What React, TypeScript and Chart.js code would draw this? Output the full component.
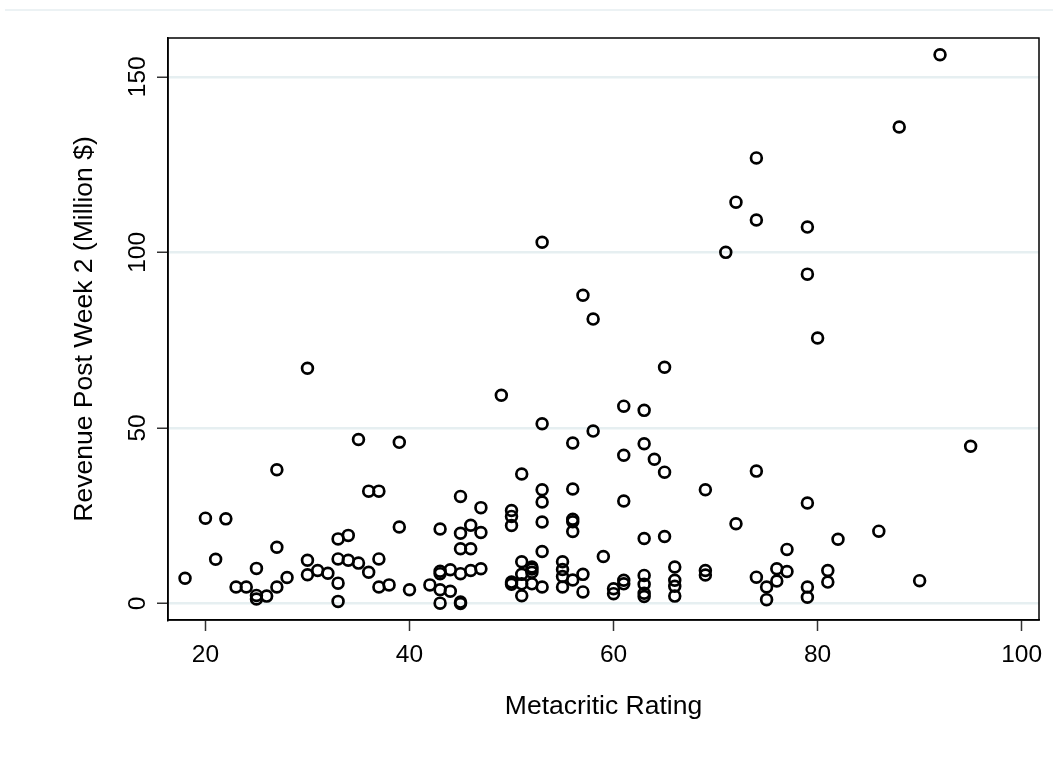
import React, { useEffect, useRef } from "react";
import { Chart, registerables } from "chart.js";

Chart.register(...registerables);

// Metacritic rating of each film
const ratings: number[] = [
  18, 20, 21, 22, 23, 24, 25, 25, 25, 26, 27, 27, 27, 28, 30, 30, 30, 31, 32, 33,
  33, 33, 33, 34, 34, 35, 35, 36, 36, 37, 37, 37, 38, 39, 39, 40, 42, 43, 43, 43,
  43, 43, 44, 44, 45, 45, 45, 45, 45, 45, 46, 46, 46, 47, 47, 47, 49, 50, 50, 50,
  50, 50, 51, 51, 51, 51, 51, 52, 52, 52, 52, 53, 53, 53, 53, 53, 53, 53, 55, 55,
  55, 55, 56, 56, 56, 56, 56, 56, 57, 57, 57, 58, 58, 59, 60, 60, 61, 61, 61, 61,
  61, 63, 63, 63, 63, 63, 63, 63, 64, 65, 65, 65, 66, 66, 66, 66, 69, 69, 69, 71,
  72, 72, 74, 74, 74, 74, 75, 75, 76, 76, 77, 77, 79, 79, 79, 79, 79, 80, 81, 81,
  82, 86, 88, 90, 92, 95,
];

// Revenue after week 2 (million $)
const revenue: number[] = [
  7.2, 24.3, 12.6, 24.1, 4.7, 4.7, 10, 2.3, 1.3, 2.1, 38.1, 16, 4.7, 7.4, 67, 12.3, 8.2, 9.4, 8.6, 18.4,
  12.7, 5.8, 0.6, 19.4, 12.3, 46.7, 11.5, 32, 8.9, 32, 12.7, 4.7, 5.3, 45.9, 21.8, 3.9, 5.3, 21.2, 9.2, 8.5,
  3.9, 0.1, 9.6, 3.5, 30.5, 20, 15.6, 8.5, 0.4, 0, 22.3, 15.6, 9.4, 27.3, 20.2, 9.9, 59.3, 26.5, 24.8, 22.2,
  6.1, 5.5, 36.9, 11.9, 8.3, 5.6, 2.2, 10.4, 9.8, 8.9, 5.6, 102.9, 51.2, 32.4, 28.9, 23.2, 14.8, 4.7, 11.9, 9.7,
  7.7, 4.7, 45.7, 32.6, 24, 23.3, 20.5, 6.7, 87.8, 8.3, 3.3, 81, 49.1, 13.4, 4.2, 2.8, 56.2, 42.2, 29.2, 6.6,
  5.6, 55, 45.5, 18.5, 8, 5.5, 2.9, 2, 41.1, 67.3, 37.4, 19.1, 10.4, 6.6, 4.9, 2.1, 32.4, 9.4, 8.1, 100,
  114.3, 22.7, 126.9, 109.2, 37.7, 7.5, 4.7, 1.1, 9.9, 6.4, 15.4, 9.1, 107.2, 93.8, 28.6, 4.7, 1.8, 75.6, 9.4, 6.1,
  18.3, 20.6, 135.7, 6.5, 156.3, 44.8,
];

const xTicks: number[] = [20, 40, 60, 80, 100];
const yTicks: number[] = [0, 50, 100, 150];
const xTitle = "Metacritic Rating";
const yTitle = "Revenue Post Week 2 (Million $)";

const FONT = '"Liberation Sans", Arial, Helvetica, sans-serif';

export default function App() {
  const canvasRef = useRef<HTMLCanvasElement | null>(null);

  useEffect(() => {
    const canvas = canvasRef.current;
    if (!canvas) return;

    const points = ratings.map((r, i) => ({ x: r, y: revenue[i] }));

    const decor = {
      id: "decor",
      beforeDraw(chart: any) {
        const ctx = chart.ctx;
        ctx.save();
        ctx.fillStyle = "#ffffff";
        ctx.fillRect(0, 0, chart.width, chart.height);
        ctx.strokeStyle = "#e6eef0";
        ctx.lineWidth = 1.5;
        ctx.beginPath();
        ctx.moveTo(5, 10);
        ctx.lineTo(chart.width, 10);
        ctx.stroke();
        ctx.restore();
      },
      afterDraw(chart: any) {
        const ctx = chart.ctx;
        const a = chart.chartArea;
        const xs = chart.scales.x;
        const ys = chart.scales.y;
        ctx.save();
        ctx.strokeStyle = "#000";
        ctx.lineWidth = 1.5;
        ctx.strokeRect(a.left, a.top, a.right - a.left, a.bottom - a.top);

        ctx.fillStyle = "#000";
        ctx.font = `24.5px ${FONT}`;
        ctx.textAlign = "center";
        ctx.textBaseline = "alphabetic";
        xTicks.forEach((v) => {
          ctx.fillText(String(v), xs.getPixelForValue(v), 662);
        });
        yTicks.forEach((v) => {
          ctx.save();
          ctx.translate(145, ys.getPixelForValue(v));
          ctx.rotate(-Math.PI / 2);
          ctx.fillText(String(v), 0, 0);
          ctx.restore();
        });

        ctx.font = `26.5px ${FONT}`;
        ctx.fillText(xTitle, (a.left + a.right) / 2, 714);
        ctx.save();
        ctx.translate(92, (a.top + a.bottom) / 2);
        ctx.rotate(-Math.PI / 2);
        ctx.fillText(yTitle, 0, 0);
        ctx.restore();
        ctx.restore();
      },
    };

    const chart = new Chart(canvas, {
      type: "scatter",
      data: {
        datasets: [
          {
            data: points,
            pointStyle: "circle",
            pointRadius: 5.4,
            pointBorderWidth: 2.7,
            pointBorderColor: "#000",
            pointBackgroundColor: "rgba(0,0,0,0)",
            showLine: false,
          },
        ],
      },
      options: {
        animation: false,
        responsive: false,
        devicePixelRatio: 1,
        layout: { padding: { left: 0, top: 38, right: 14, bottom: 0 } },
        plugins: {
          legend: { display: false },
          tooltip: { enabled: false },
          title: { display: false },
        },
        scales: {
          x: {
            type: "linear",
            min: 16.33,
            max: 101.7,
            afterFit: (s: any) => {
              s.height = 152;
            },
            afterBuildTicks: (s: any) => {
              s.ticks = xTicks.map((v) => ({ value: v }));
            },
            ticks: { display: false },
            grid: {
              drawOnChartArea: false,
              drawTicks: true,
              tickLength: 11,
              tickColor: "#333",
              tickWidth: 1.5,
            },
            border: { display: true, color: "#000", width: 1.5 },
          },
          y: {
            type: "linear",
            min: -4.7,
            max: 161.05,
            afterFit: (s: any) => {
              s.width = 168;
            },
            afterBuildTicks: (s: any) => {
              s.ticks = yTicks.map((v) => ({ value: v }));
            },
            ticks: { display: false },
            grid: {
              drawOnChartArea: true,
              color: "#e6eff1",
              lineWidth: 2.5,
              drawTicks: true,
              tickLength: 11,
              tickColor: "#333",
              tickWidth: 1.5,
            },
            border: { display: true, color: "#000", width: 1.5 },
          },
        },
      },
      plugins: [decor],
    });

    return () => {
      chart.destroy();
    };
  }, []);

  return (
    <div style={{ position: "fixed", left: 0, top: 0, width: 1053, height: 772, background: "#fff" }}>
      <canvas ref={canvasRef} width={1053} height={772} style={{ display: "block" }} />
    </div>
  );
}
